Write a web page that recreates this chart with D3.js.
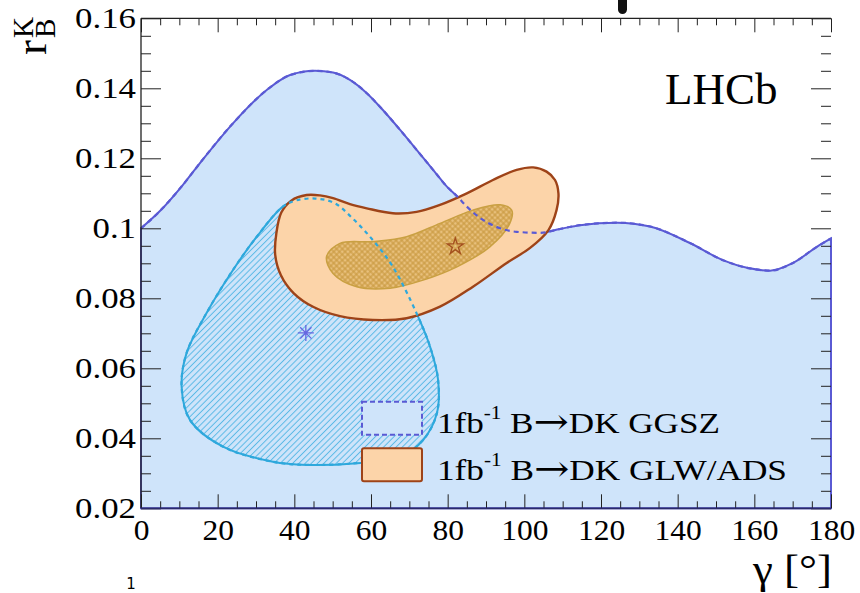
<!DOCTYPE html>
<html>
<head>
<meta charset="utf-8">
<script src="https://cdn.jsdelivr.net/npm/d3@7"></script>
<style>
  body { margin: 0; background: #fff; }
  svg { display: block; }
  text { font-family: "Liberation Serif", "Times New Roman", serif; fill: #000; }
</style>
</head>
<body>
<svg id="chart" width="860" height="593"></svg>
<script>
// ---- data: gamma [deg] vs r_B^K ----
const xMajorTicks = [0, 20, 40, 60, 80, 100, 120, 140, 160, 180];
const yMajorTicks = [0.02, 0.04, 0.06, 0.08, 0.1, 0.12, 0.14, 0.16];

// upper edge of the wide GGSZ region (filled down to r = 0.02)
const ggszWideEdge = [
  [0, 0.1000], [5, 0.1050], [11, 0.1125], [16, 0.1195], [24, 0.1300],
  [32.8, 0.1395], [38.9, 0.1438], [45.4, 0.1450], [50.1, 0.1445], [54.5, 0.1424],
  [58.9, 0.1386], [63.1, 0.1338], [67.6, 0.1281], [71.9, 0.1224], [76.2, 0.1167],
  [79.8, 0.1119], [82.4, 0.1092], [85, 0.1062], [89.2, 0.1024], [93.7, 0.1000],
  [98, 0.0990], [104.1, 0.0987], [109.3, 0.0998], [114.5, 0.1009], [124.2, 0.1016],
  [132.8, 0.1005], [143.2, 0.0958], [151.8, 0.0909], [158.1, 0.0887], [164.1, 0.0879],
  [170.1, 0.0901], [176.3, 0.0947], [180, 0.0971]
];

// hatched GGSZ contour
const ggszContour = [
  [37.0, 0.1062], [40.6, 0.1080], [45.5, 0.1085], [50.5, 0.1072], [55.5, 0.1025],
  [60.5, 0.0966], [65.7, 0.0890], [71.9, 0.0757], [75.4, 0.0662], [77.5, 0.0567],
  [77.2, 0.0472], [73.6, 0.0395], [67.6, 0.0347], [56.3, 0.0329], [43.2, 0.0324],
  [34.4, 0.0333], [21.4, 0.0376], [12.8, 0.0452], [10.6, 0.0547], [11.9, 0.0644],
  [17.1, 0.0758], [24.0, 0.0881], [30.2, 0.0976]
];

// GLW/ADS outer contour
const glwOuterContour = [
  [35.0, 0.0925], [35.3, 0.0985], [36.6, 0.1045], [39.2, 0.1079], [43.2, 0.1095],
  [46.7, 0.1094], [50.1, 0.1086], [54.5, 0.1069], [58.9, 0.1057], [65.7, 0.1043],
  [71.9, 0.1047], [78.0, 0.1067], [85.0, 0.1100], [91.8, 0.1138], [98.0, 0.1167],
  [102.3, 0.1174], [105.8, 0.1162], [108.0, 0.1138], [108.9, 0.1100], [108.4, 0.1052],
  [106.3, 0.0995], [101.5, 0.0944], [95.4, 0.0901], [86.6, 0.0833], [78.0, 0.0776],
  [69.3, 0.0743], [60.5, 0.0738], [51.9, 0.0749], [45.0, 0.0775], [39.8, 0.0815],
  [36.5, 0.0866]
];

// GLW/ADS inner contour
const glwInnerContour = [
  [48.4, 0.0919], [51.9, 0.0957], [60.5, 0.0962], [69.3, 0.0976], [78.0, 0.1014],
  [86.6, 0.1052], [93.7, 0.1067], [96.7, 0.1052], [96.2, 0.1014], [91.0, 0.0947],
  [82.4, 0.0890], [73.6, 0.0852], [65.0, 0.0829], [56.3, 0.0833], [50.1, 0.0871]
];

const ggszBest = [43, 0.0701];
const glwBest = [82, 0.0948];

const legendLabels = ["GGSZ", "GLW/ADS"];

// ---- layout ----
const svg = d3.select("#chart");
const x = d3.scaleLinear().domain([0, 180]).range([141, 831]);
const y = d3.scaleLinear().domain([0.02, 0.16]).range([508.3, 18.3]);
const SERIF = "'Liberation Serif', 'Times New Roman', serif";

const C = {
  blueFill: "#cfe4fa", blueLine: "#5a5ad4",
  cyanLine: "#2ea8dc", hatch: "#5ab9e6",
  orangeFill: "#fcd4a9", orangeLine: "#9e4318",
  goldBase: "#e8c07c", goldGrid: "#c9993f", goldLine: "#c9a042",
  axis: "#222"
};

const defs = svg.append("defs");
const hatch = defs.append("pattern").attr("id", "ggszHatch")
  .attr("patternUnits", "userSpaceOnUse").attr("width", 4.4).attr("height", 4.4)
  .attr("patternTransform", "rotate(45)");
hatch.append("rect").attr("width", 4.4).attr("height", 4.4).attr("fill", C.blueFill);
hatch.append("line").attr("x1", 2.2).attr("x2", 2.2).attr("y1", 0).attr("y2", 4.4)
  .attr("stroke", C.hatch).attr("stroke-width", 1);

const cross = defs.append("pattern").attr("id", "glwCross")
  .attr("patternUnits", "userSpaceOnUse").attr("width", 4).attr("height", 4)
  .attr("patternTransform", "rotate(45)");
cross.append("rect").attr("width", 4).attr("height", 4).attr("fill", C.goldBase);
cross.append("line").attr("x1", 2).attr("x2", 2).attr("y1", 0).attr("y2", 4)
  .attr("stroke", C.goldGrid).attr("stroke-width", 1.1);
cross.append("line").attr("y1", 2).attr("y2", 2).attr("x1", 0).attr("x2", 4)
  .attr("stroke", C.goldGrid).attr("stroke-width", 1.1);

const plot = svg.append("g");

// wide GGSZ region
const wideArea = d3.area().x(d => x(d[0])).y0(y(0.02)).y1(d => y(d[1])).curve(d3.curveMonotoneX);
const wideLine = d3.line().x(d => x(d[0])).y(d => y(d[1])).curve(d3.curveMonotoneX);
plot.append("path").datum(ggszWideEdge).attr("d", wideArea)
  .attr("fill", C.blueFill).attr("stroke", C.blueLine).attr("stroke-width", 2);

const closed = d3.line().x(d => x(d[0])).y(d => y(d[1])).curve(d3.curveCatmullRomClosed.alpha(0.5));

// hatched GGSZ contour
plot.append("path").datum(ggszContour).attr("d", closed)
  .attr("fill", "url(#ggszHatch)").attr("stroke", C.cyanLine).attr("stroke-width", 2);

// GLW/ADS contours
plot.append("path").datum(glwOuterContour).attr("d", closed)
  .attr("fill", C.orangeFill).attr("stroke", C.orangeLine).attr("stroke-width", 2.4);
plot.append("path").datum(glwInnerContour).attr("d", closed)
  .attr("fill", "url(#glwCross)").attr("stroke", C.goldLine).attr("stroke-width", 1.5);

// GGSZ edges continued dashed across the GLW/ADS region
plot.append("path").datum(ggszWideEdge).attr("d", wideLine)
  .attr("fill", "none").attr("stroke", C.blueLine).attr("stroke-width", 2.2)
  .attr("stroke-dasharray", "5,4");
plot.append("path").datum(ggszContour).attr("d", closed)
  .attr("fill", "none").attr("stroke", C.cyanLine).attr("stroke-width", 2.2)
  .attr("stroke-dasharray", "4,4");

// best-fit markers
const arm = 8;
plot.append("path")
  .attr("transform", `translate(${x(ggszBest[0])},${y(ggszBest[1])})`)
  .attr("d", d3.range(4).map(i => {
    const a = i * Math.PI / 4, dx = arm * Math.cos(a), dy = arm * Math.sin(a);
    return `M${-dx},${-dy}L${dx},${dy}`;
  }).join(""))
  .attr("stroke", "#6666e0").attr("stroke-width", 1.3).attr("fill", "none");
plot.append("path")
  .attr("transform", `translate(${x(glwBest[0])},${y(glwBest[1])})`)
  .attr("d", d3.symbol(d3.symbolStar, 80)())
  .attr("fill", "none").attr("stroke", "#a4501e").attr("stroke-width", 1.4);

// ---- axes ----
const xMinor = d3.range(0, 181, 5).filter(v => v % 20 !== 0);
const yMinor = d3.range(4, 33).filter(i => i % 4 !== 0).map(i => i * 0.005);
const fmtY = d => String(+d.toFixed(2));

function styleAxis(g) {
  g.select(".domain").remove();
  g.selectAll(".tick line").attr("stroke", C.axis).attr("stroke-width", 1);
  g.attr("font-family", null).attr("font-size", null);
  g.selectAll("text").attr("font-size", 30).attr("fill", "#000").style("font-family", SERIF);
}

const x0 = x(0), x1 = x(180), y0 = y(0.02), y1 = y(0.16);

svg.append("g").attr("transform", `translate(0,${y0})`)
  .call(d3.axisBottom(x).tickValues(xMajorTicks).tickSize(-14).tickPadding(10).tickFormat(d3.format("d")))
  .call(styleAxis).attr("class", "xlab");
svg.append("g").attr("transform", `translate(0,${y0})`)
  .call(d3.axisBottom(x).tickValues(xMinor).tickSize(-7).tickFormat(""))
  .call(styleAxis);
svg.append("g").attr("transform", `translate(0,${y1})`)
  .call(d3.axisTop(x).tickValues(xMajorTicks).tickSize(-14).tickFormat(""))
  .call(styleAxis);
svg.append("g").attr("transform", `translate(0,${y1})`)
  .call(d3.axisTop(x).tickValues(xMinor).tickSize(-7).tickFormat(""))
  .call(styleAxis);

svg.append("g").attr("transform", `translate(${x0},0)`)
  .call(d3.axisLeft(y).tickValues(yMajorTicks).tickSize(-20).tickPadding(5).tickFormat(fmtY))
  .call(styleAxis).attr("class", "ylab");
svg.append("g").attr("transform", `translate(${x0},0)`)
  .call(d3.axisLeft(y).tickValues(yMinor).tickSize(-10).tickFormat(""))
  .call(styleAxis);
svg.append("g").attr("transform", `translate(${x1},0)`)
  .call(d3.axisRight(y).tickValues(yMajorTicks).tickSize(-20).tickFormat(""))
  .call(styleAxis);
svg.append("g").attr("transform", `translate(${x1},0)`)
  .call(d3.axisRight(y).tickValues(yMinor).tickSize(-10).tickFormat(""))
  .call(styleAxis);

// widen the tick label glyphs slightly
svg.selectAll(".ylab text").each(function () {
  const w = this.getComputedTextLength();
  d3.select(this).attr("textLength", w * 1.16).attr("lengthAdjust", "spacingAndGlyphs");
});
svg.selectAll(".xlab text").each(function () {
  const w = this.getComputedTextLength();
  d3.select(this).attr("textLength", w * 1.05).attr("lengthAdjust", "spacingAndGlyphs");
});

// frame
svg.append("path")
  .attr("d", `M${x0},${y1}H${x1}M${x0},${y1}V${y0}`)
  .attr("stroke", C.axis).attr("stroke-width", 1.3).attr("fill", "none");
svg.append("path")
  .attr("d", `M${x0},${y0}H${x1}`)
  .attr("stroke", "#2a2a6a").attr("stroke-width", 1.8).attr("fill", "none");

// ---- axis titles ----
const yTitle = svg.append("g").attr("transform", "translate(46,55) rotate(-90)");
yTitle.append("text").attr("x", 0).attr("y", 0).attr("font-size", 45).text("r");
yTitle.append("text").attr("x", 17).attr("y", -13).attr("font-size", 29).text("K");
yTitle.append("text").attr("x", 17).attr("y", 9).attr("font-size", 29).text("B");

svg.append("text").attr("x", 832).attr("y", 583).attr("text-anchor", "end")
  .attr("font-size", 41).attr("textLength", 79).attr("lengthAdjust", "spacingAndGlyphs")
  .style("font-family", SERIF)
  .text("γ [°]");

svg.append("text").attr("x", 665).attr("y", 104).attr("font-size", 45).text("LHCb");

// ---- legend ----
const legend = svg.append("g");
const rows = [
  { label: legendLabels[0], top: 401.7, base: 433.3, width: 283 },
  { label: legendLabels[1], top: 448.3, base: 480, width: 350 }
];
legend.append("rect").attr("x", 362).attr("y", rows[0].top).attr("width", 60).attr("height", 33)
  .attr("fill", C.blueFill).attr("stroke", C.blueLine).attr("stroke-width", 2)
  .attr("stroke-dasharray", "5,3");
legend.append("rect").attr("x", 362).attr("y", rows[1].top).attr("width", 60).attr("height", 33)
  .attr("rx", 2).attr("fill", C.orangeFill).attr("stroke", C.orangeLine).attr("stroke-width", 2);

rows.forEach(r => {
  const g = legend.append("g");
  const t = g.append("text").attr("x", 0).attr("y", 0).attr("font-size", 30);
  t.append("tspan").text("1fb");
  t.append("tspan").attr("font-size", 18).attr("dy", -14).text("-1");
  t.append("tspan").attr("dy", 14).text(" B");
  t.append("tspan").style("font-family", "'DejaVu Serif', serif").attr("font-size", 36)
    .attr("dy", 1).text("→");
  t.append("tspan").attr("dy", -1).text("DK " + r.label);
  const w = t.node().getComputedTextLength();
  g.attr("transform", `translate(437,${r.base}) scale(${r.width / w},1)`);
});

// page fragments around the figure
svg.append("rect").attr("x", 618).attr("y", -6).attr("width", 9).attr("height", 20)
  .attr("rx", 4.5).attr("fill", "#111");
svg.append("text").attr("x", 131).attr("y", 589).attr("font-size", 15)
  .style("font-family", "'DejaVu Sans', sans-serif").attr("text-anchor", "middle").text("1");
</script>
</body>
</html>
